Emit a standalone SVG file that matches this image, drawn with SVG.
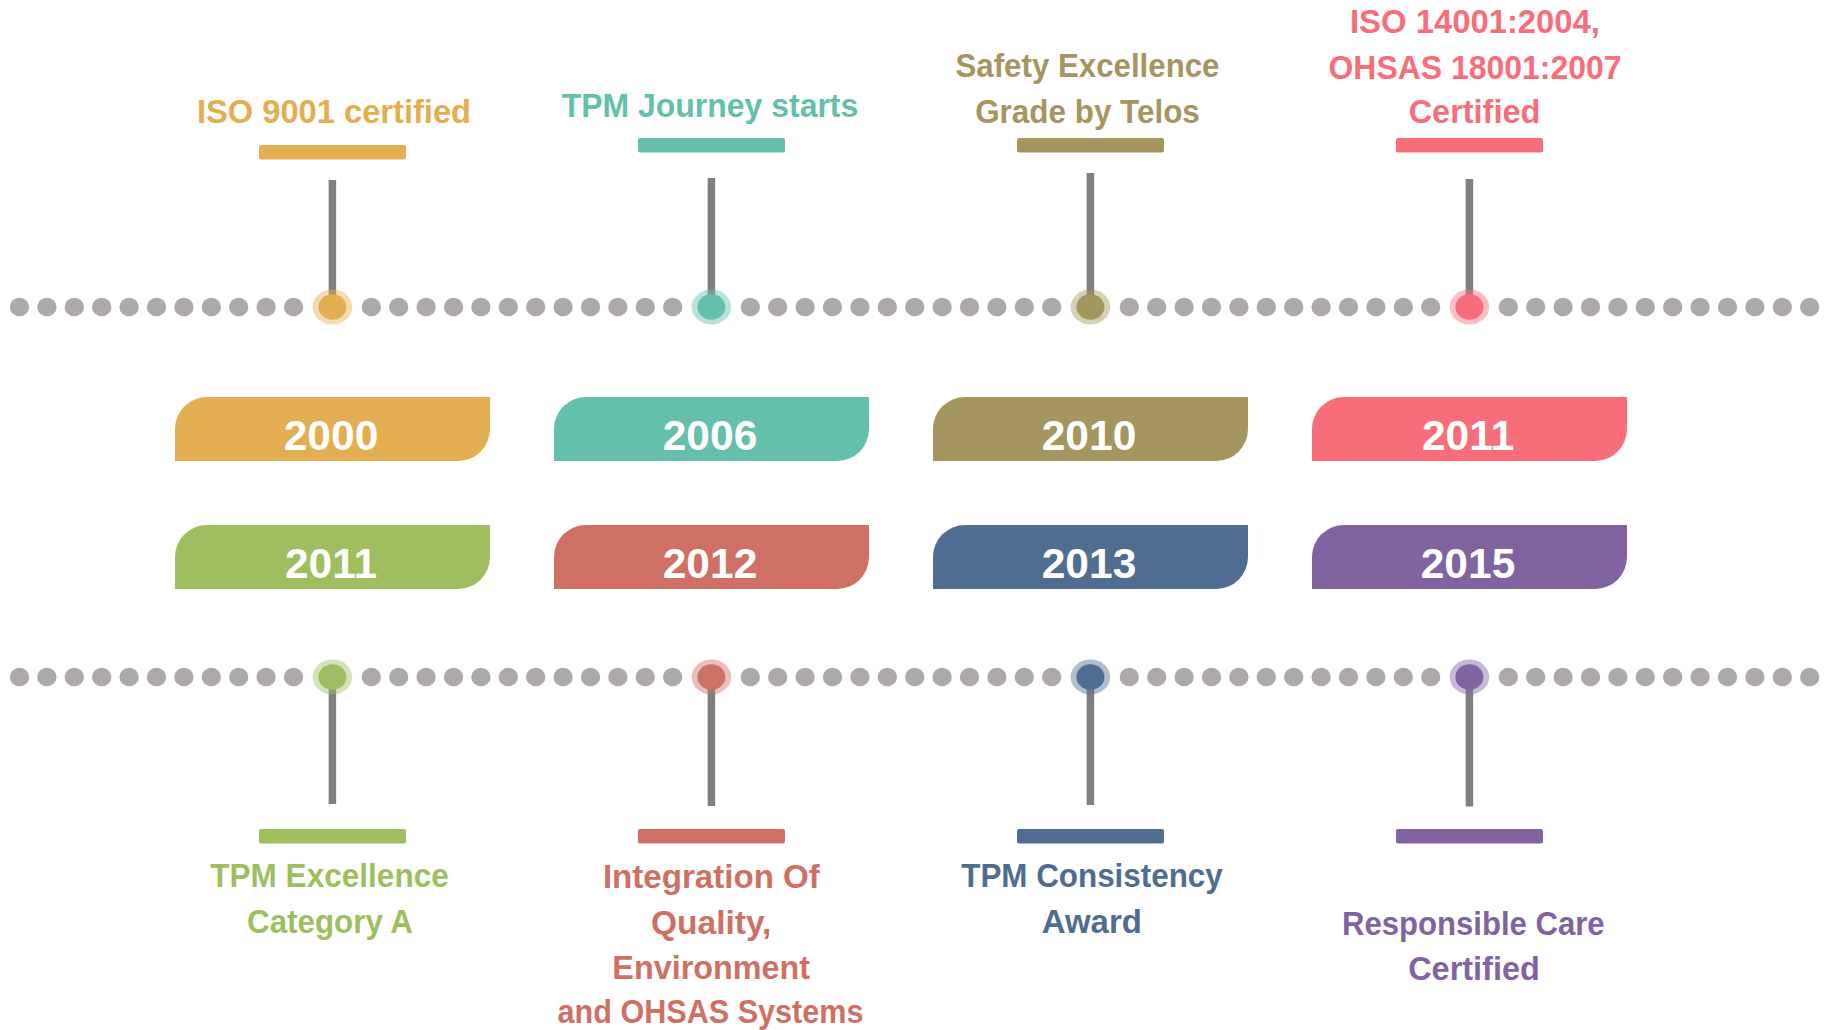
<svg xmlns="http://www.w3.org/2000/svg" xmlns:xlink="http://www.w3.org/1999/xlink" width="1831" height="1030" viewBox="0 0 1831 1030">
<style>
.dot{fill:#ADA9A8}
.stem{stroke:#808080;stroke-width:7.5;fill:none}
.lbl{font-family:"Liberation Sans",Arial,sans-serif;font-weight:bold;font-size:33px;text-anchor:middle}
.yr{font-family:"Liberation Sans",Arial,sans-serif;font-weight:bold;font-size:42.5px;text-anchor:middle;fill:#FFFFFF}
.ring{opacity:0.45}
</style>
<defs>
<ellipse id="d" rx="9.7" ry="9.2" class="dot"/>
<g id="s11">
<use href="#d" x="0"/><use href="#d" x="27.4"/><use href="#d" x="54.8"/><use href="#d" x="82.2"/><use href="#d" x="109.6"/><use href="#d" x="137"/><use href="#d" x="164.4"/><use href="#d" x="191.8"/><use href="#d" x="219.2"/><use href="#d" x="246.6"/><use href="#d" x="274"/>
</g>
<g id="s12"><use href="#s11"/><use href="#d" x="301.4"/></g>
<path id="box" d="M0,32 A32,32 0 0 1 32,0 H315 V32 A32,32 0 0 1 283,64 H0 Z"/>
</defs>
<rect width="1831" height="1030" fill="#FFFFFF"/>

<g id="connectors">
<g id="dotline-top" transform="translate(0,307)">
<use href="#s11" x="19.5"/><use href="#s12" x="371.3"/><use href="#s12" x="750.3"/><use href="#s12" x="1129.3"/><use href="#s12" x="1508.3"/>
</g>
<g id="dotline-bottom" transform="translate(0,677)">
<use href="#s11" x="19.5"/><use href="#s12" x="371.3"/><use href="#s12" x="750.3"/><use href="#s12" x="1129.3"/><use href="#s12" x="1508.3"/>
</g>
<path class="stem" d="M332.4,180 V300 M711.4,178 V300 M1090.4,173 V300 M1469.4,179 V300"/>
<path class="stem" d="M332.4,684 V804 M711.4,684 V806 M1090.4,684 V805 M1469.4,684 V806.5"/>
</g>

<g id="m2000">
<text class="lbl" x="334" y="123" fill="#E3AE51" textLength="274" lengthAdjust="spacingAndGlyphs">ISO 9001 certified</text>
<rect x="259" y="145" width="147" height="14.5" rx="2" fill="#E3AE51"/>
<ellipse class="ring" cx="332.4" cy="307" rx="19.8" ry="17.5" fill="#E3AE51"/>
<ellipse cx="332.4" cy="307" rx="14" ry="12.8" fill="#E3AE51"/>
<use href="#box" x="175" y="397" fill="#E3AE51"/>
<text class="yr" x="331" y="450">2000</text>
</g>

<g id="m2006">
<text class="lbl" x="710" y="116.5" fill="#64BFAD" textLength="296.6" lengthAdjust="spacingAndGlyphs">TPM Journey starts</text>
<rect x="638" y="138" width="147" height="14.5" rx="2" fill="#64BFAD"/>
<ellipse class="ring" cx="711.4" cy="307" rx="19.8" ry="17.5" fill="#64BFAD"/>
<ellipse cx="711.4" cy="307" rx="14" ry="12.8" fill="#64BFAD"/>
<use href="#box" x="554" y="397" fill="#64BFAD"/>
<text class="yr" x="710" y="450">2006</text>
</g>

<g id="m2010">
<text class="lbl" x="1087.5" y="77.3" fill="#A59660" textLength="264" lengthAdjust="spacingAndGlyphs">Safety Excellence</text>
<text class="lbl" x="1087.5" y="122.7" fill="#A59660" textLength="224.7" lengthAdjust="spacingAndGlyphs">Grade by Telos</text>
<rect x="1017" y="138" width="147" height="14.5" rx="2" fill="#A59660"/>
<ellipse class="ring" cx="1090.4" cy="307" rx="19.8" ry="17.5" fill="#A59660"/>
<ellipse cx="1090.4" cy="307" rx="14" ry="12.8" fill="#A59660"/>
<use href="#box" x="933" y="397" fill="#A59660"/>
<text class="yr" x="1089" y="450">2010</text>
</g>

<g id="m2011a">
<text class="lbl" x="1475" y="33.3" fill="#F76E7A" textLength="250" lengthAdjust="spacingAndGlyphs">ISO 14001:2004,</text>
<text class="lbl" x="1475" y="79" fill="#F76E7A" textLength="293" lengthAdjust="spacingAndGlyphs">OHSAS 18001:2007</text>
<text class="lbl" x="1474.5" y="123.3" fill="#F76E7A" textLength="131.7" lengthAdjust="spacingAndGlyphs">Certified</text>
<rect x="1396" y="138" width="147" height="14.5" rx="2" fill="#F76E7A"/>
<ellipse class="ring" cx="1469.4" cy="307" rx="19.8" ry="17.5" fill="#F76E7A"/>
<ellipse cx="1469.4" cy="307" rx="14" ry="12.8" fill="#F76E7A"/>
<use href="#box" x="1312" y="397" fill="#F76E7A"/>
<text class="yr" x="1468" y="450">2011</text>
</g>

<g id="m2011b">
<use href="#box" x="175" y="525" fill="#9FBE5F"/>
<text class="yr" x="331" y="578">2011</text>
<ellipse class="ring" cx="332.4" cy="677" rx="19.8" ry="17.5" fill="#9FBE5F"/>
<ellipse cx="332.4" cy="677" rx="14" ry="12.8" fill="#9FBE5F"/>
<rect x="259" y="829" width="147" height="14.5" rx="2" fill="#9FBE5F"/>
<text class="lbl" x="329.5" y="887.3" fill="#9FBE5F" textLength="238.5" lengthAdjust="spacingAndGlyphs">TPM Excellence</text>
<text class="lbl" x="330" y="933.3" fill="#9FBE5F" textLength="166" lengthAdjust="spacingAndGlyphs">Category A</text>
</g>

<g id="m2012">
<use href="#box" x="554" y="525" fill="#CF7064"/>
<text class="yr" x="710" y="578">2012</text>
<ellipse class="ring" cx="711.4" cy="677" rx="19.8" ry="17.5" fill="#CF7064"/>
<ellipse cx="711.4" cy="677" rx="14" ry="12.8" fill="#CF7064"/>
<rect x="638" y="829" width="147" height="14.5" rx="2" fill="#CF7064"/>
<text class="lbl" x="711.4" y="888" fill="#CF7064" textLength="217" lengthAdjust="spacingAndGlyphs">Integration Of</text>
<text class="lbl" x="711.2" y="933.5" fill="#CF7064" textLength="120.4" lengthAdjust="spacingAndGlyphs">Quality,</text>
<text class="lbl" x="711.2" y="979" fill="#CF7064" textLength="197.7" lengthAdjust="spacingAndGlyphs">Environment</text>
<text class="lbl" x="710.5" y="1023" fill="#CF7064" textLength="305.8" lengthAdjust="spacingAndGlyphs">and OHSAS Systems</text>
</g>

<g id="m2013">
<use href="#box" x="933" y="525" fill="#4E6D90"/>
<text class="yr" x="1089" y="578">2013</text>
<ellipse class="ring" cx="1090.4" cy="677" rx="19.8" ry="17.5" fill="#4E6D90"/>
<ellipse cx="1090.4" cy="677" rx="14" ry="12.8" fill="#4E6D90"/>
<rect x="1017" y="829" width="147" height="14.5" rx="2" fill="#4E6D90"/>
<text class="lbl" x="1092" y="887.3" fill="#4E6D90" textLength="261.5" lengthAdjust="spacingAndGlyphs">TPM Consistency</text>
<text class="lbl" x="1091.8" y="933.3" fill="#4E6D90" textLength="100" lengthAdjust="spacingAndGlyphs">Award</text>
</g>

<g id="m2015">
<use href="#box" x="1312" y="525" fill="#8063A0"/>
<text class="yr" x="1468" y="578">2015</text>
<ellipse class="ring" cx="1469.4" cy="677" rx="19.8" ry="17.5" fill="#8063A0"/>
<ellipse cx="1469.4" cy="677" rx="14" ry="12.8" fill="#8063A0"/>
<rect x="1396" y="829" width="147" height="14.5" rx="2" fill="#8063A0"/>
<text class="lbl" x="1473.3" y="935" fill="#8063A0" textLength="262.6" lengthAdjust="spacingAndGlyphs">Responsible Care</text>
<text class="lbl" x="1474" y="980" fill="#8063A0" textLength="131.7" lengthAdjust="spacingAndGlyphs">Certified</text>
</g>
</svg>
